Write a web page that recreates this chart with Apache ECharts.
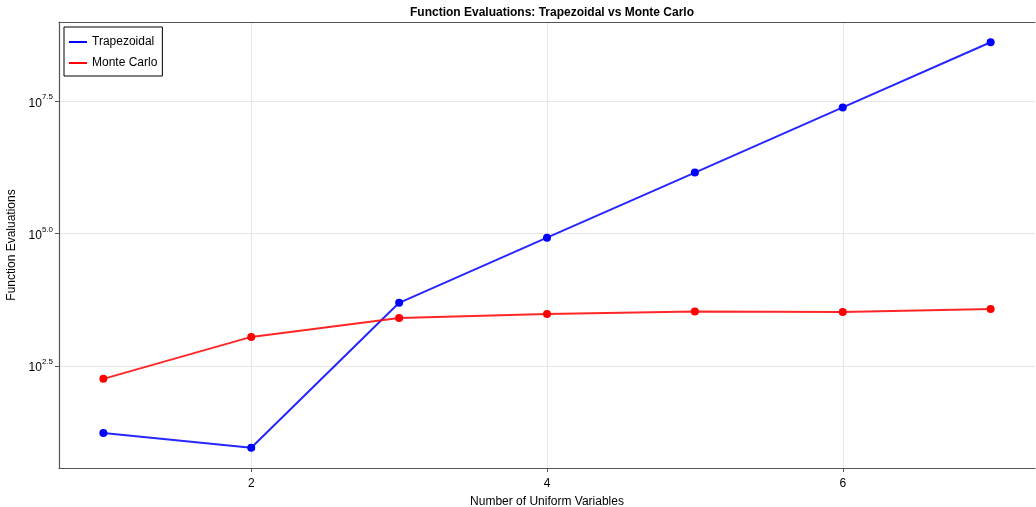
<!DOCTYPE html>
<html>
<head>
<meta charset="utf-8">
<script src="https://cdn.jsdelivr.net/npm/echarts@6/dist/echarts.min.js"></script>
<style>
html,body{margin:0;padding:0;background:#fff;}
#chart{width:1036px;height:507px;}
</style>
</head>
<body>
<div id="chart"></div>
<script>
const numVars = [1, 2, 3, 4, 5, 6, 7];
const trapezoidal = [17, 9, 4913, 83521, 1419857, 24137569, 410338673];
const monteCarlo = [180, 1115, 2550, 3030, 3370, 3300, 3760];
const yTickExponents = [2.5, 5.0, 7.5];
const xTicks = [2, 4, 6];

const chart = echarts.init(document.getElementById('chart'), null, {renderer: 'canvas'});
const font = 'Liberation Sans, Arial, Helvetica, sans-serif';
const yTickValues = yTickExponents.map(e => Math.pow(10, e));

function pairs(ys) { return numVars.map((x, i) => [x, ys[i]]); }

const option = {
  backgroundColor: '#ffffff',
  animation: false,
  title: {
    text: 'Function Evaluations: Trapezoidal vs Monte Carlo',
    left: 547, top: 2, textAlign: 'center',
    textStyle: {fontFamily: font, fontSize: 12, fontWeight: 'bold', color: '#000'}
  },
  legend: {
    left: 64, top: 27, orient: 'vertical',
    backgroundColor: '#fff', borderColor: '#000', borderWidth: 1,
    padding: [9, 5, 7, 5], itemGap: 9, itemWidth: 18, itemHeight: 14,
    icon: 'path://M0,6 L18,6 L18,8 L0,8 Z',
    textStyle: {fontFamily: font, fontSize: 12, color: '#000'},
    data: ['Trapezoidal', 'Monte Carlo']
  },
  grid: {left: 59, right: 1, top: 22, bottom: 39, show: false, containLabel: false, outerBoundsMode: 'none'},
  xAxis: [{
    type: 'value', min: 0.7, max: 7.3, position: 'bottom',
    name: 'Number of Uniform Variables', nameLocation: 'middle', nameGap: 28,
    nameTextStyle: {fontFamily: font, fontSize: 12, color: '#000'},
    axisLine: {show: true, onZero: false, lineStyle: {color: '#555', width: 1.2}},
    axisTick: {show: true, length: 4, inside: false, customValues: xTicks, lineStyle: {color: '#555'}},
    axisLabel: {customValues: xTicks, fontFamily: font, fontSize: 12, color: '#000', margin: 10},
    splitLine: {show: true, customValues: xTicks, lineStyle: {color: '#e6e6e6', width: 1}}
  }, {
    type: 'value', min: 0.7, max: 7.3, position: 'top',
    axisLine: {show: true, onZero: false, lineStyle: {color: '#555', width: 1.2}},
    axisTick: {show: false}, axisLabel: {show: false}, splitLine: {show: false}
  }],
  yAxis: {
    type: 'log', logBase: 10,
    min: Math.pow(10, 0.571), max: Math.pow(10, 8.996),
    name: 'Function Evaluations', nameLocation: 'middle', nameGap: 39, nameRotate: 90,
    nameTextStyle: {fontFamily: font, fontSize: 12, color: '#000'},
    axisLine: {show: true, onZero: false, lineStyle: {color: '#555', width: 1.2}},
    axisTick: {show: true, length: 4, customValues: yTickValues, lineStyle: {color: '#555'}},
    axisLabel: {
      customValues: yTickValues, margin: 6,
      formatter: function (v) {
        const e = Math.log10(v);
        return '{b|10}{s|' + e.toFixed(1) + '}';
      },
      rich: {
        b: {fontFamily: font, fontSize: 12, color: '#000', verticalAlign: 'bottom', padding: [4, 0, 0, 0]},
        s: {fontFamily: font, fontSize: 8, color: '#000', verticalAlign: 'top', padding: [0, 0, 6, 0]}
      }
    },
    splitLine: {show: true, customValues: yTickValues, lineStyle: {color: '#e6e6e6', width: 1}}
  },
  series: [{
    name: 'Trapezoidal', type: 'line', xAxisIndex: 0, data: pairs(trapezoidal),
    symbol: 'circle', symbolSize: 8,
    lineStyle: {color: 'rgba(0,0,255,0.85)', width: 2},
    itemStyle: {color: '#0000ff'}, color: '#0000ff'
  }, {
    name: 'Monte Carlo', type: 'line', xAxisIndex: 0, data: pairs(monteCarlo),
    symbol: 'circle', symbolSize: 8,
    lineStyle: {color: 'rgba(255,0,0,0.85)', width: 2},
    itemStyle: {color: '#ff0000'}, color: '#ff0000'
  }]
};
chart.setOption(option);
</script>
</body>
</html>
